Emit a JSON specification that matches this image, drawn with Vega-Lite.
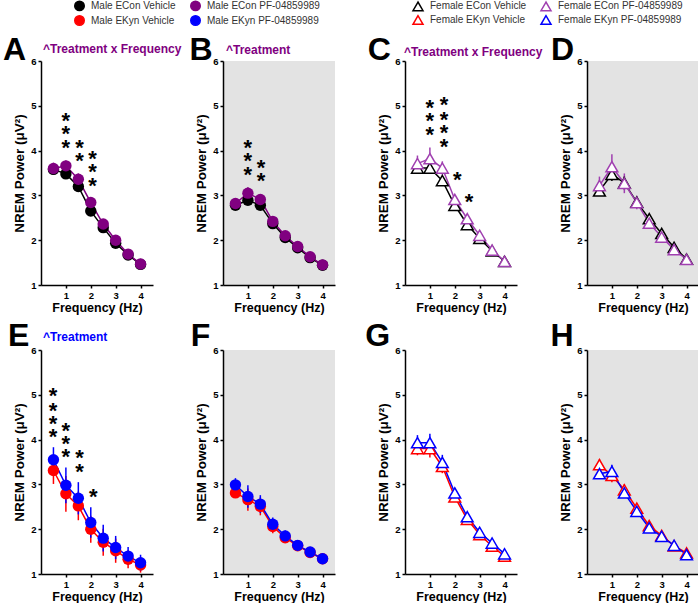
{
"$schema":"https://vega.github.io/schema/vega-lite/v6.json",
"padding":{"left":2,"top":0,"right":0,"bottom":0},
"background":"white",
"config":{
 "font":"Liberation Sans",
 "view":{"stroke":null},
 "axis":{"grid":false,"domainColor":"#000","domainWidth":1.5,"tickColor":"#000","tickWidth":1.5,"tickSize":3,"labelFontWeight":"bold","labelFontSize":9.5,"labelColor":"#000","labelPadding":2,"titleFontWeight":"bold","titleColor":"#000"}
},
"datasets":{
"series":[
{"panel":"A","group":"Male ECon Vehicle","freq":0.5,"power":3.58,"sem":0.12},
{"panel":"A","group":"Male ECon Vehicle","freq":1,"power":3.48,"sem":0.10},
{"panel":"A","group":"Male ECon Vehicle","freq":1.5,"power":3.20,"sem":0.12},
{"panel":"A","group":"Male ECon Vehicle","freq":2,"power":2.65,"sem":0.08},
{"panel":"A","group":"Male ECon Vehicle","freq":2.5,"power":2.28,"sem":0.06},
{"panel":"A","group":"Male ECon Vehicle","freq":3,"power":1.93,"sem":0.05},
{"panel":"A","group":"Male ECon Vehicle","freq":3.5,"power":1.67,"sem":0.04},
{"panel":"A","group":"Male ECon Vehicle","freq":4,"power":1.46,"sem":0.03},
{"panel":"A","group":"Male ECon PF-04859989","freq":0.5,"power":3.60,"sem":0.13},
{"panel":"A","group":"Male ECon PF-04859989","freq":1,"power":3.66,"sem":0.12},
{"panel":"A","group":"Male ECon PF-04859989","freq":1.5,"power":3.36,"sem":0.13},
{"panel":"A","group":"Male ECon PF-04859989","freq":2,"power":2.84,"sem":0.10},
{"panel":"A","group":"Male ECon PF-04859989","freq":2.5,"power":2.36,"sem":0.07},
{"panel":"A","group":"Male ECon PF-04859989","freq":3,"power":2.00,"sem":0.06},
{"panel":"A","group":"Male ECon PF-04859989","freq":3.5,"power":1.69,"sem":0.04},
{"panel":"A","group":"Male ECon PF-04859989","freq":4,"power":1.47,"sem":0.03},
{"panel":"B","group":"Male ECon Vehicle","freq":0.5,"power":2.78,"sem":0.10},
{"panel":"B","group":"Male ECon Vehicle","freq":1,"power":2.89,"sem":0.10},
{"panel":"B","group":"Male ECon Vehicle","freq":1.5,"power":2.78,"sem":0.10},
{"panel":"B","group":"Male ECon Vehicle","freq":2,"power":2.37,"sem":0.06},
{"panel":"B","group":"Male ECon Vehicle","freq":2.5,"power":2.06,"sem":0.05},
{"panel":"B","group":"Male ECon Vehicle","freq":3,"power":1.83,"sem":0.04},
{"panel":"B","group":"Male ECon Vehicle","freq":3.5,"power":1.61,"sem":0.03},
{"panel":"B","group":"Male ECon Vehicle","freq":4,"power":1.44,"sem":0.03},
{"panel":"B","group":"Male ECon PF-04859989","freq":0.5,"power":2.82,"sem":0.12},
{"panel":"B","group":"Male ECon PF-04859989","freq":1,"power":3.05,"sem":0.13},
{"panel":"B","group":"Male ECon PF-04859989","freq":1.5,"power":2.91,"sem":0.12},
{"panel":"B","group":"Male ECon PF-04859989","freq":2,"power":2.42,"sem":0.07},
{"panel":"B","group":"Male ECon PF-04859989","freq":2.5,"power":2.10,"sem":0.05},
{"panel":"B","group":"Male ECon PF-04859989","freq":3,"power":1.86,"sem":0.04},
{"panel":"B","group":"Male ECon PF-04859989","freq":3.5,"power":1.63,"sem":0.03},
{"panel":"B","group":"Male ECon PF-04859989","freq":4,"power":1.45,"sem":0.03},
{"panel":"C","group":"Female ECon Vehicle","freq":0.5,"power":3.61,"sem":0.06},
{"panel":"C","group":"Female ECon Vehicle","freq":1,"power":3.61,"sem":0.10},
{"panel":"C","group":"Female ECon Vehicle","freq":1.5,"power":3.33,"sem":0.10},
{"panel":"C","group":"Female ECon Vehicle","freq":2,"power":2.78,"sem":0.06},
{"panel":"C","group":"Female ECon Vehicle","freq":2.5,"power":2.35,"sem":0.06},
{"panel":"C","group":"Female ECon Vehicle","freq":3,"power":2.04,"sem":0.05},
{"panel":"C","group":"Female ECon Vehicle","freq":3.5,"power":1.76,"sem":0.04},
{"panel":"C","group":"Female ECon Vehicle","freq":4,"power":1.53,"sem":0.03},
{"panel":"C","group":"Female ECon PF-04859989","freq":0.5,"power":3.71,"sem":0.18},
{"panel":"C","group":"Female ECon PF-04859989","freq":1,"power":3.82,"sem":0.25},
{"panel":"C","group":"Female ECon PF-04859989","freq":1.5,"power":3.61,"sem":0.15},
{"panel":"C","group":"Female ECon PF-04859989","freq":2,"power":2.91,"sem":0.10},
{"panel":"C","group":"Female ECon PF-04859989","freq":2.5,"power":2.48,"sem":0.08},
{"panel":"C","group":"Female ECon PF-04859989","freq":3,"power":2.11,"sem":0.06},
{"panel":"C","group":"Female ECon PF-04859989","freq":3.5,"power":1.78,"sem":0.05},
{"panel":"C","group":"Female ECon PF-04859989","freq":4,"power":1.53,"sem":0.04},
{"panel":"D","group":"Female ECon Vehicle","freq":0.5,"power":3.10,"sem":0.08},
{"panel":"D","group":"Female ECon Vehicle","freq":1,"power":3.47,"sem":0.15},
{"panel":"D","group":"Female ECon Vehicle","freq":1.5,"power":3.28,"sem":0.15},
{"panel":"D","group":"Female ECon Vehicle","freq":2,"power":2.85,"sem":0.10},
{"panel":"D","group":"Female ECon Vehicle","freq":2.5,"power":2.48,"sem":0.08},
{"panel":"D","group":"Female ECon Vehicle","freq":3,"power":2.15,"sem":0.06},
{"panel":"D","group":"Female ECon Vehicle","freq":3.5,"power":1.84,"sem":0.05},
{"panel":"D","group":"Female ECon Vehicle","freq":4,"power":1.58,"sem":0.04},
{"panel":"D","group":"Female ECon PF-04859989","freq":0.5,"power":3.22,"sem":0.20},
{"panel":"D","group":"Female ECon PF-04859989","freq":1,"power":3.64,"sem":0.28},
{"panel":"D","group":"Female ECon PF-04859989","freq":1.5,"power":3.27,"sem":0.22},
{"panel":"D","group":"Female ECon PF-04859989","freq":2,"power":2.84,"sem":0.15},
{"panel":"D","group":"Female ECon PF-04859989","freq":2.5,"power":2.38,"sem":0.10},
{"panel":"D","group":"Female ECon PF-04859989","freq":3,"power":2.07,"sem":0.07},
{"panel":"D","group":"Female ECon PF-04859989","freq":3.5,"power":1.79,"sem":0.05},
{"panel":"D","group":"Female ECon PF-04859989","freq":4,"power":1.57,"sem":0.04},
{"panel":"E","group":"Male EKyn Vehicle","freq":0.5,"power":3.31,"sem":0.30},
{"panel":"E","group":"Male EKyn Vehicle","freq":1,"power":2.79,"sem":0.40},
{"panel":"E","group":"Male EKyn Vehicle","freq":1.5,"power":2.52,"sem":0.32},
{"panel":"E","group":"Male EKyn Vehicle","freq":2,"power":2.00,"sem":0.30},
{"panel":"E","group":"Male EKyn Vehicle","freq":2.5,"power":1.71,"sem":0.30},
{"panel":"E","group":"Male EKyn Vehicle","freq":3,"power":1.52,"sem":0.27},
{"panel":"E","group":"Male EKyn Vehicle","freq":3.5,"power":1.33,"sem":0.20},
{"panel":"E","group":"Male EKyn Vehicle","freq":4,"power":1.20,"sem":0.17},
{"panel":"E","group":"Male EKyn PF-04859989","freq":0.5,"power":3.55,"sem":0.28},
{"panel":"E","group":"Male EKyn PF-04859989","freq":1,"power":2.98,"sem":0.40},
{"panel":"E","group":"Male EKyn PF-04859989","freq":1.5,"power":2.69,"sem":0.36},
{"panel":"E","group":"Male EKyn PF-04859989","freq":2,"power":2.15,"sem":0.34},
{"panel":"E","group":"Male EKyn PF-04859989","freq":2.5,"power":1.80,"sem":0.30},
{"panel":"E","group":"Male EKyn PF-04859989","freq":3,"power":1.59,"sem":0.26},
{"panel":"E","group":"Male EKyn PF-04859989","freq":3.5,"power":1.40,"sem":0.20},
{"panel":"E","group":"Male EKyn PF-04859989","freq":4,"power":1.25,"sem":0.18},
{"panel":"F","group":"Male EKyn Vehicle","freq":0.5,"power":2.81,"sem":0.10},
{"panel":"F","group":"Male EKyn Vehicle","freq":1,"power":2.66,"sem":0.25},
{"panel":"F","group":"Male EKyn Vehicle","freq":1.5,"power":2.51,"sem":0.20},
{"panel":"F","group":"Male EKyn Vehicle","freq":2,"power":2.06,"sem":0.15},
{"panel":"F","group":"Male EKyn Vehicle","freq":2.5,"power":1.81,"sem":0.12},
{"panel":"F","group":"Male EKyn Vehicle","freq":3,"power":1.63,"sem":0.08},
{"panel":"F","group":"Male EKyn Vehicle","freq":3.5,"power":1.48,"sem":0.06},
{"panel":"F","group":"Male EKyn Vehicle","freq":4,"power":1.34,"sem":0.05},
{"panel":"F","group":"Male EKyn PF-04859989","freq":0.5,"power":2.99,"sem":0.15},
{"panel":"F","group":"Male EKyn PF-04859989","freq":1,"power":2.73,"sem":0.25},
{"panel":"F","group":"Male EKyn PF-04859989","freq":1.5,"power":2.56,"sem":0.20},
{"panel":"F","group":"Male EKyn PF-04859989","freq":2,"power":2.11,"sem":0.15},
{"panel":"F","group":"Male EKyn PF-04859989","freq":2.5,"power":1.85,"sem":0.12},
{"panel":"F","group":"Male EKyn PF-04859989","freq":3,"power":1.64,"sem":0.08},
{"panel":"F","group":"Male EKyn PF-04859989","freq":3.5,"power":1.49,"sem":0.06},
{"panel":"F","group":"Male EKyn PF-04859989","freq":4,"power":1.34,"sem":0.05},
{"panel":"G","group":"Female EKyn Vehicle","freq":0.5,"power":3.80,"sem":0.15},
{"panel":"G","group":"Female EKyn Vehicle","freq":1,"power":3.80,"sem":0.20},
{"panel":"G","group":"Female EKyn Vehicle","freq":1.5,"power":3.40,"sem":0.15},
{"panel":"G","group":"Female EKyn Vehicle","freq":2,"power":2.72,"sem":0.10},
{"panel":"G","group":"Female EKyn Vehicle","freq":2.5,"power":2.22,"sem":0.07},
{"panel":"G","group":"Female EKyn Vehicle","freq":3,"power":1.88,"sem":0.05},
{"panel":"G","group":"Female EKyn Vehicle","freq":3.5,"power":1.62,"sem":0.04},
{"panel":"G","group":"Female EKyn Vehicle","freq":4,"power":1.40,"sem":0.03},
{"panel":"G","group":"Female EKyn PF-04859989","freq":0.5,"power":3.93,"sem":0.17},
{"panel":"G","group":"Female EKyn PF-04859989","freq":1,"power":3.93,"sem":0.20},
{"panel":"G","group":"Female EKyn PF-04859989","freq":1.5,"power":3.49,"sem":0.17},
{"panel":"G","group":"Female EKyn PF-04859989","freq":2,"power":2.81,"sem":0.10},
{"panel":"G","group":"Female EKyn PF-04859989","freq":2.5,"power":2.28,"sem":0.07},
{"panel":"G","group":"Female EKyn PF-04859989","freq":3,"power":1.93,"sem":0.05},
{"panel":"G","group":"Female EKyn PF-04859989","freq":3.5,"power":1.69,"sem":0.04},
{"panel":"G","group":"Female EKyn PF-04859989","freq":4,"power":1.45,"sem":0.03},
{"panel":"H","group":"Female EKyn Vehicle","freq":0.5,"power":3.44,"sem":0.12},
{"panel":"H","group":"Female EKyn Vehicle","freq":1,"power":3.20,"sem":0.15},
{"panel":"H","group":"Female EKyn Vehicle","freq":1.5,"power":2.88,"sem":0.12},
{"panel":"H","group":"Female EKyn Vehicle","freq":2,"power":2.47,"sem":0.08},
{"panel":"H","group":"Female EKyn Vehicle","freq":2.5,"power":2.08,"sem":0.06},
{"panel":"H","group":"Female EKyn Vehicle","freq":3,"power":1.86,"sem":0.05},
{"panel":"H","group":"Female EKyn Vehicle","freq":3.5,"power":1.63,"sem":0.04},
{"panel":"H","group":"Female EKyn Vehicle","freq":4,"power":1.47,"sem":0.03},
{"panel":"H","group":"Female EKyn PF-04859989","freq":0.5,"power":3.24,"sem":0.12},
{"panel":"H","group":"Female EKyn PF-04859989","freq":1,"power":3.29,"sem":0.15},
{"panel":"H","group":"Female EKyn PF-04859989","freq":1.5,"power":2.81,"sem":0.10},
{"panel":"H","group":"Female EKyn PF-04859989","freq":2,"power":2.40,"sem":0.07},
{"panel":"H","group":"Female EKyn PF-04859989","freq":2.5,"power":2.03,"sem":0.05},
{"panel":"H","group":"Female EKyn PF-04859989","freq":3,"power":1.84,"sem":0.05},
{"panel":"H","group":"Female EKyn PF-04859989","freq":3.5,"power":1.64,"sem":0.04},
{"panel":"H","group":"Female EKyn PF-04859989","freq":4,"power":1.43,"sem":0.03}
],
"stars":[
{"panel":"A","freq":1,"power":4.77},{"panel":"A","freq":1,"power":4.48},{"panel":"A","freq":1,"power":4.17},
{"panel":"A","freq":1.55,"power":4.18},{"panel":"A","freq":1.55,"power":3.88},
{"panel":"A","freq":2.07,"power":3.93},{"panel":"A","freq":2.07,"power":3.63},{"panel":"A","freq":2.07,"power":3.33},
{"panel":"B","freq":1,"power":4.17},{"panel":"B","freq":1,"power":3.87},{"panel":"B","freq":1,"power":3.56},
{"panel":"B","freq":1.53,"power":3.73},{"panel":"B","freq":1.53,"power":3.43},
{"panel":"C","freq":1,"power":5.06},{"panel":"C","freq":1,"power":4.77},{"panel":"C","freq":1,"power":4.47},
{"panel":"C","freq":1.57,"power":5.12},{"panel":"C","freq":1.57,"power":4.80},{"panel":"C","freq":1.57,"power":4.50},{"panel":"C","freq":1.57,"power":4.19},
{"panel":"C","freq":2.1,"power":3.46},{"panel":"C","freq":2.57,"power":2.97},
{"panel":"E","freq":0.48,"power":5.08},{"panel":"E","freq":0.48,"power":4.76},{"panel":"E","freq":0.48,"power":4.46},{"panel":"E","freq":0.48,"power":4.16},
{"panel":"E","freq":1,"power":4.31},{"panel":"E","freq":1,"power":4.01},{"panel":"E","freq":1,"power":3.72},
{"panel":"E","freq":1.55,"power":3.69},{"panel":"E","freq":1.55,"power":3.39},
{"panel":"E","freq":2.1,"power":2.82}
]
},
"columns":4,
"spacing":{"row":65,"column":70},
"bounds":"flush",
"resolve":{"scale":{"color":"independent"},"legend":{"color":"independent"}},
"concat":[
  {"width":112,"height":224,
   "layer":[
    {"data":{"name":"series"},"transform":[{"filter":{"field":"panel","equal":"A"}}],
     "encoding":{"x":{"field":"freq","type":"quantitative","scale":{"domain":[0,4.5],"nice":false,"zero":false},"axis":{"values":[1,2,3,4],"title":"Frequency (Hz)","titleFontSize":12.5,"titlePadding":2}},
                 "y":{"field":"power","type":"quantitative","scale":{"domain":[1,6],"nice":false,"zero":false},"axis":{"values":[1,2,3,4,5,6],"title":"NREM Power (μV²)","titleFontSize":13.5,"titlePadding":4}}},
     "layer":[
     {"mark":{"type":"errorbar","thickness":1.5},"encoding":{"yError":{"field":"sem"},"color":{"field":"group","type":"nominal","scale":{"domain":["Male ECon Vehicle","Male EKyn Vehicle","Male ECon PF-04859989","Male EKyn PF-04859989"],"range":["#000000","#ff0000","#800080","#0000ff"]},"legend":{"title":null,"orient":"none","legendX":33,"legendY":-61,"columns":2,"symbolType":"circle","symbolSize":90,"labelFontSize":10,"labelColor":"#333333","labelOffset":6,"columnPadding":11,"rowPadding":-2,"padding":0}}}},
     {"mark":{"type":"line","strokeWidth":1.5},"encoding":{"color":{"field":"group","type":"nominal","scale":{"domain":["Male ECon Vehicle","Male EKyn Vehicle","Male ECon PF-04859989","Male EKyn PF-04859989"],"range":["#000000","#ff0000","#800080","#0000ff"]},"legend":{"title":null,"orient":"none","legendX":33,"legendY":-61,"columns":2,"symbolType":"circle","symbolSize":90,"labelFontSize":10,"labelColor":"#333333","labelOffset":6,"columnPadding":11,"rowPadding":-2,"padding":0}}}},
     {"mark":{"type":"point","shape":"circle","filled":true,"size":130,"opacity":1},"encoding":{"color":{"field":"group","type":"nominal","scale":{"domain":["Male ECon Vehicle","Male EKyn Vehicle","Male ECon PF-04859989","Male EKyn PF-04859989"],"range":["#000000","#ff0000","#800080","#0000ff"]},"legend":{"title":null,"orient":"none","legendX":33,"legendY":-61,"columns":2,"symbolType":"circle","symbolSize":90,"labelFontSize":10,"labelColor":"#333333","labelOffset":6,"columnPadding":11,"rowPadding":-2,"padding":0}}}}
    ]},
    {"data":{"name":"stars"},"transform":[{"filter":{"field":"panel","equal":"A"}}],"mark":{"type":"text","text":"*","fontSize":22,"fontWeight":"bold","baseline":"alphabetic","dy":12,"color":"#000"},
     "encoding":{"x":{"field":"freq","type":"quantitative","scale":{"domain":[0,4.5],"nice":false,"zero":false},"axis":{"values":[1,2,3,4],"title":"Frequency (Hz)","titleFontSize":12.5,"titlePadding":2}},
                 "y":{"field":"power","type":"quantitative","scale":{"domain":[1,6],"nice":false,"zero":false},"axis":{"values":[1,2,3,4,5,6],"title":"NREM Power (μV²)","titleFontSize":13.5,"titlePadding":4}}}},
    {"data":{"values":[{"t":"A"}]},"mark":{"type":"text","clip":false,"fontSize":32,"fontWeight":"bold","align":"left","baseline":"alphabetic","color":"#000"},
     "encoding":{"x":{"datum":-1.53,"type":"quantitative","scale":{"domain":[0,4.5],"nice":false,"zero":false},"axis":{"values":[1,2,3,4],"title":"Frequency (Hz)","titleFontSize":12.5,"titlePadding":2}},
                 "y":{"datum":6.02,"type":"quantitative","scale":{"domain":[1,6],"nice":false,"zero":false},"axis":{"values":[1,2,3,4,5,6],"title":"NREM Power (μV²)","titleFontSize":13.5,"titlePadding":4}},"text":{"field":"t","type":"nominal"}}},
    {"data":{"values":[{"t":"^Treatment x Frequency"}]},"mark":{"type":"text","clip":false,"fontSize":12,"fontWeight":"bold","align":"left","baseline":"middle","color":"#800080"},
     "encoding":{"x":{"datum":0.08,"type":"quantitative","scale":{"domain":[0,4.5],"nice":false,"zero":false},"axis":{"values":[1,2,3,4],"title":"Frequency (Hz)","titleFontSize":12.5,"titlePadding":2}},
                 "y":{"datum":6.26,"type":"quantitative","scale":{"domain":[1,6],"nice":false,"zero":false},"axis":{"values":[1,2,3,4,5,6],"title":"NREM Power (μV²)","titleFontSize":13.5,"titlePadding":4}},"text":{"field":"t","type":"nominal"}}}
   ]},
  {"width":112,"height":224,"view":{"fill":"#e3e3e3","stroke":null},
   "layer":[
    {"data":{"name":"series"},"transform":[{"filter":{"field":"panel","equal":"B"}}],
     "encoding":{"x":{"field":"freq","type":"quantitative","scale":{"domain":[0,4.5],"nice":false,"zero":false},"axis":{"values":[1,2,3,4],"title":"Frequency (Hz)","titleFontSize":12.5,"titlePadding":2}},
                 "y":{"field":"power","type":"quantitative","scale":{"domain":[1,6],"nice":false,"zero":false},"axis":{"values":[1,2,3,4,5,6],"title":"NREM Power (μV²)","titleFontSize":13.5,"titlePadding":4}}},
     "layer":[
     {"mark":{"type":"errorbar","thickness":1.5},"encoding":{"yError":{"field":"sem"},"color":{"field":"group","type":"nominal","scale":{"domain":["Male ECon Vehicle","Male EKyn Vehicle","Male ECon PF-04859989","Male EKyn PF-04859989"],"range":["#000000","#ff0000","#800080","#0000ff"]},"legend":null}}},
     {"mark":{"type":"line","strokeWidth":1.5},"encoding":{"color":{"field":"group","type":"nominal","scale":{"domain":["Male ECon Vehicle","Male EKyn Vehicle","Male ECon PF-04859989","Male EKyn PF-04859989"],"range":["#000000","#ff0000","#800080","#0000ff"]},"legend":null}}},
     {"mark":{"type":"point","shape":"circle","filled":true,"size":130,"opacity":1},"encoding":{"color":{"field":"group","type":"nominal","scale":{"domain":["Male ECon Vehicle","Male EKyn Vehicle","Male ECon PF-04859989","Male EKyn PF-04859989"],"range":["#000000","#ff0000","#800080","#0000ff"]},"legend":null}}}
    ]},
    {"data":{"name":"stars"},"transform":[{"filter":{"field":"panel","equal":"B"}}],"mark":{"type":"text","text":"*","fontSize":22,"fontWeight":"bold","baseline":"alphabetic","dy":12,"color":"#000"},
     "encoding":{"x":{"field":"freq","type":"quantitative","scale":{"domain":[0,4.5],"nice":false,"zero":false},"axis":{"values":[1,2,3,4],"title":"Frequency (Hz)","titleFontSize":12.5,"titlePadding":2}},
                 "y":{"field":"power","type":"quantitative","scale":{"domain":[1,6],"nice":false,"zero":false},"axis":{"values":[1,2,3,4,5,6],"title":"NREM Power (μV²)","titleFontSize":13.5,"titlePadding":4}}}},
    {"data":{"values":[{"t":"B"}]},"mark":{"type":"text","clip":false,"fontSize":32,"fontWeight":"bold","align":"left","baseline":"alphabetic","color":"#000"},
     "encoding":{"x":{"datum":-1.35,"type":"quantitative","scale":{"domain":[0,4.5],"nice":false,"zero":false},"axis":{"values":[1,2,3,4],"title":"Frequency (Hz)","titleFontSize":12.5,"titlePadding":2}},
                 "y":{"datum":6.02,"type":"quantitative","scale":{"domain":[1,6],"nice":false,"zero":false},"axis":{"values":[1,2,3,4,5,6],"title":"NREM Power (μV²)","titleFontSize":13.5,"titlePadding":4}},"text":{"field":"t","type":"nominal"}}},
    {"data":{"values":[{"t":"^Treatment"}]},"mark":{"type":"text","clip":false,"fontSize":12,"fontWeight":"bold","align":"left","baseline":"middle","color":"#800080"},
     "encoding":{"x":{"datum":0.12,"type":"quantitative","scale":{"domain":[0,4.5],"nice":false,"zero":false},"axis":{"values":[1,2,3,4],"title":"Frequency (Hz)","titleFontSize":12.5,"titlePadding":2}},
                 "y":{"datum":6.24,"type":"quantitative","scale":{"domain":[1,6],"nice":false,"zero":false},"axis":{"values":[1,2,3,4,5,6],"title":"NREM Power (μV²)","titleFontSize":13.5,"titlePadding":4}},"text":{"field":"t","type":"nominal"}}}
   ]},
  {"width":112,"height":224,
   "layer":[
    {"data":{"name":"series"},"transform":[{"filter":{"field":"panel","equal":"C"}}],
     "encoding":{"x":{"field":"freq","type":"quantitative","scale":{"domain":[0,4.5],"nice":false,"zero":false},"axis":{"values":[1,2,3,4],"title":"Frequency (Hz)","titleFontSize":12.5,"titlePadding":2}},
                 "y":{"field":"power","type":"quantitative","scale":{"domain":[1,6],"nice":false,"zero":false},"axis":{"values":[1,2,3,4,5,6],"title":"NREM Power (μV²)","titleFontSize":13.5,"titlePadding":4}}},
     "layer":[
     {"mark":{"type":"errorbar","thickness":1.5},"encoding":{"yError":{"field":"sem"},"color":{"field":"group","type":"nominal","scale":{"domain":["Female ECon Vehicle","Female EKyn Vehicle","Female ECon PF-04859989","Female EKyn PF-04859989"],"range":["#000000","#ff0000","#a040b0","#0000ff"]},"legend":{"title":null,"orient":"none","legendX":7,"legendY":-61,"columns":2,"symbolType":"triangle-up","symbolSize":100,"symbolStrokeWidth":1.5,"labelFontSize":10,"labelColor":"#333333","labelOffset":6,"columnPadding":11,"rowPadding":-2,"padding":0}}}},
     {"mark":{"type":"line","strokeWidth":1.5},"encoding":{"color":{"field":"group","type":"nominal","scale":{"domain":["Female ECon Vehicle","Female EKyn Vehicle","Female ECon PF-04859989","Female EKyn PF-04859989"],"range":["#000000","#ff0000","#a040b0","#0000ff"]},"legend":{"title":null,"orient":"none","legendX":7,"legendY":-61,"columns":2,"symbolType":"triangle-up","symbolSize":100,"symbolStrokeWidth":1.5,"labelFontSize":10,"labelColor":"#333333","labelOffset":6,"columnPadding":11,"rowPadding":-2,"padding":0}}}},
     {"mark":{"type":"point","shape":"triangle-up","filled":false,"fill":"white","fillOpacity":1,"strokeWidth":1.5,"size":140,"opacity":1},"encoding":{"color":{"field":"group","type":"nominal","scale":{"domain":["Female ECon Vehicle","Female EKyn Vehicle","Female ECon PF-04859989","Female EKyn PF-04859989"],"range":["#000000","#ff0000","#a040b0","#0000ff"]},"legend":{"title":null,"orient":"none","legendX":7,"legendY":-61,"columns":2,"symbolType":"triangle-up","symbolSize":100,"symbolStrokeWidth":1.5,"labelFontSize":10,"labelColor":"#333333","labelOffset":6,"columnPadding":11,"rowPadding":-2,"padding":0}}}}
    ]},
    {"data":{"name":"stars"},"transform":[{"filter":{"field":"panel","equal":"C"}}],"mark":{"type":"text","text":"*","fontSize":22,"fontWeight":"bold","baseline":"alphabetic","dy":12,"color":"#000"},
     "encoding":{"x":{"field":"freq","type":"quantitative","scale":{"domain":[0,4.5],"nice":false,"zero":false},"axis":{"values":[1,2,3,4],"title":"Frequency (Hz)","titleFontSize":12.5,"titlePadding":2}},
                 "y":{"field":"power","type":"quantitative","scale":{"domain":[1,6],"nice":false,"zero":false},"axis":{"values":[1,2,3,4,5,6],"title":"NREM Power (μV²)","titleFontSize":13.5,"titlePadding":4}}}},
    {"data":{"values":[{"t":"C"}]},"mark":{"type":"text","clip":false,"fontSize":32,"fontWeight":"bold","align":"left","baseline":"alphabetic","color":"#000"},
     "encoding":{"x":{"datum":-1.5,"type":"quantitative","scale":{"domain":[0,4.5],"nice":false,"zero":false},"axis":{"values":[1,2,3,4],"title":"Frequency (Hz)","titleFontSize":12.5,"titlePadding":2}},
                 "y":{"datum":6.02,"type":"quantitative","scale":{"domain":[1,6],"nice":false,"zero":false},"axis":{"values":[1,2,3,4,5,6],"title":"NREM Power (μV²)","titleFontSize":13.5,"titlePadding":4}},"text":{"field":"t","type":"nominal"}}},
    {"data":{"values":[{"t":"^Treatment x Frequency"}]},"mark":{"type":"text","clip":false,"fontSize":12,"fontWeight":"bold","align":"left","baseline":"middle","color":"#800080"},
     "encoding":{"x":{"datum":-0.04,"type":"quantitative","scale":{"domain":[0,4.5],"nice":false,"zero":false},"axis":{"values":[1,2,3,4],"title":"Frequency (Hz)","titleFontSize":12.5,"titlePadding":2}},
                 "y":{"datum":6.2,"type":"quantitative","scale":{"domain":[1,6],"nice":false,"zero":false},"axis":{"values":[1,2,3,4,5,6],"title":"NREM Power (μV²)","titleFontSize":13.5,"titlePadding":4}},"text":{"field":"t","type":"nominal"}}}
   ]},
  {"width":112,"height":224,"view":{"fill":"#e3e3e3","stroke":null},
   "layer":[
    {"data":{"name":"series"},"transform":[{"filter":{"field":"panel","equal":"D"}}],
     "encoding":{"x":{"field":"freq","type":"quantitative","scale":{"domain":[0,4.5],"nice":false,"zero":false},"axis":{"values":[1,2,3,4],"title":"Frequency (Hz)","titleFontSize":12.5,"titlePadding":2}},
                 "y":{"field":"power","type":"quantitative","scale":{"domain":[1,6],"nice":false,"zero":false},"axis":{"values":[1,2,3,4,5,6],"title":"NREM Power (μV²)","titleFontSize":13.5,"titlePadding":4}}},
     "layer":[
     {"mark":{"type":"errorbar","thickness":1.5},"encoding":{"yError":{"field":"sem"},"color":{"field":"group","type":"nominal","scale":{"domain":["Female ECon Vehicle","Female EKyn Vehicle","Female ECon PF-04859989","Female EKyn PF-04859989"],"range":["#000000","#ff0000","#a040b0","#0000ff"]},"legend":null}}},
     {"mark":{"type":"line","strokeWidth":1.5},"encoding":{"color":{"field":"group","type":"nominal","scale":{"domain":["Female ECon Vehicle","Female EKyn Vehicle","Female ECon PF-04859989","Female EKyn PF-04859989"],"range":["#000000","#ff0000","#a040b0","#0000ff"]},"legend":null}}},
     {"mark":{"type":"point","shape":"triangle-up","filled":false,"fill":"white","fillOpacity":1,"strokeWidth":1.5,"size":140,"opacity":1},"encoding":{"color":{"field":"group","type":"nominal","scale":{"domain":["Female ECon Vehicle","Female EKyn Vehicle","Female ECon PF-04859989","Female EKyn PF-04859989"],"range":["#000000","#ff0000","#a040b0","#0000ff"]},"legend":null}}}
    ]},
    {"data":{"values":[{"t":"D"}]},"mark":{"type":"text","clip":false,"fontSize":32,"fontWeight":"bold","align":"left","baseline":"alphabetic","color":"#000"},
     "encoding":{"x":{"datum":-1.45,"type":"quantitative","scale":{"domain":[0,4.5],"nice":false,"zero":false},"axis":{"values":[1,2,3,4],"title":"Frequency (Hz)","titleFontSize":12.5,"titlePadding":2}},
                 "y":{"datum":6.02,"type":"quantitative","scale":{"domain":[1,6],"nice":false,"zero":false},"axis":{"values":[1,2,3,4,5,6],"title":"NREM Power (μV²)","titleFontSize":13.5,"titlePadding":4}},"text":{"field":"t","type":"nominal"}}}
   ]},
  {"width":112,"height":224,
   "layer":[
    {"data":{"name":"series"},"transform":[{"filter":{"field":"panel","equal":"E"}}],
     "encoding":{"x":{"field":"freq","type":"quantitative","scale":{"domain":[0,4.5],"nice":false,"zero":false},"axis":{"values":[1,2,3,4],"title":"Frequency (Hz)","titleFontSize":12.5,"titlePadding":2}},
                 "y":{"field":"power","type":"quantitative","scale":{"domain":[1,6],"nice":false,"zero":false},"axis":{"values":[1,2,3,4,5,6],"title":"NREM Power (μV²)","titleFontSize":13.5,"titlePadding":4}}},
     "layer":[
     {"mark":{"type":"errorbar","thickness":1.5},"encoding":{"yError":{"field":"sem"},"color":{"field":"group","type":"nominal","scale":{"domain":["Male ECon Vehicle","Male EKyn Vehicle","Male ECon PF-04859989","Male EKyn PF-04859989"],"range":["#000000","#ff0000","#800080","#0000ff"]},"legend":null}}},
     {"mark":{"type":"line","strokeWidth":1.5},"encoding":{"color":{"field":"group","type":"nominal","scale":{"domain":["Male ECon Vehicle","Male EKyn Vehicle","Male ECon PF-04859989","Male EKyn PF-04859989"],"range":["#000000","#ff0000","#800080","#0000ff"]},"legend":null}}},
     {"mark":{"type":"point","shape":"circle","filled":true,"size":130,"opacity":1},"encoding":{"color":{"field":"group","type":"nominal","scale":{"domain":["Male ECon Vehicle","Male EKyn Vehicle","Male ECon PF-04859989","Male EKyn PF-04859989"],"range":["#000000","#ff0000","#800080","#0000ff"]},"legend":null}}}
    ]},
    {"data":{"name":"stars"},"transform":[{"filter":{"field":"panel","equal":"E"}}],"mark":{"type":"text","text":"*","fontSize":22,"fontWeight":"bold","baseline":"alphabetic","dy":12,"color":"#000"},
     "encoding":{"x":{"field":"freq","type":"quantitative","scale":{"domain":[0,4.5],"nice":false,"zero":false},"axis":{"values":[1,2,3,4],"title":"Frequency (Hz)","titleFontSize":12.5,"titlePadding":2}},
                 "y":{"field":"power","type":"quantitative","scale":{"domain":[1,6],"nice":false,"zero":false},"axis":{"values":[1,2,3,4,5,6],"title":"NREM Power (μV²)","titleFontSize":13.5,"titlePadding":4}}}},
    {"data":{"values":[{"t":"E"}]},"mark":{"type":"text","clip":false,"fontSize":32,"fontWeight":"bold","align":"left","baseline":"alphabetic","color":"#000"},
     "encoding":{"x":{"datum":-1.33,"type":"quantitative","scale":{"domain":[0,4.5],"nice":false,"zero":false},"axis":{"values":[1,2,3,4],"title":"Frequency (Hz)","titleFontSize":12.5,"titlePadding":2}},
                 "y":{"datum":6.09,"type":"quantitative","scale":{"domain":[1,6],"nice":false,"zero":false},"axis":{"values":[1,2,3,4,5,6],"title":"NREM Power (μV²)","titleFontSize":13.5,"titlePadding":4}},"text":{"field":"t","type":"nominal"}}},
    {"data":{"values":[{"t":"^Treatment"}]},"mark":{"type":"text","clip":false,"fontSize":12,"fontWeight":"bold","align":"left","baseline":"middle","color":"#0000ff"},
     "encoding":{"x":{"datum":0.08,"type":"quantitative","scale":{"domain":[0,4.5],"nice":false,"zero":false},"axis":{"values":[1,2,3,4],"title":"Frequency (Hz)","titleFontSize":12.5,"titlePadding":2}},
                 "y":{"datum":6.29,"type":"quantitative","scale":{"domain":[1,6],"nice":false,"zero":false},"axis":{"values":[1,2,3,4,5,6],"title":"NREM Power (μV²)","titleFontSize":13.5,"titlePadding":4}},"text":{"field":"t","type":"nominal"}}}
   ]},
  {"width":112,"height":224,"view":{"fill":"#e3e3e3","stroke":null},
   "layer":[
    {"data":{"name":"series"},"transform":[{"filter":{"field":"panel","equal":"F"}}],
     "encoding":{"x":{"field":"freq","type":"quantitative","scale":{"domain":[0,4.5],"nice":false,"zero":false},"axis":{"values":[1,2,3,4],"title":"Frequency (Hz)","titleFontSize":12.5,"titlePadding":2}},
                 "y":{"field":"power","type":"quantitative","scale":{"domain":[1,6],"nice":false,"zero":false},"axis":{"values":[1,2,3,4,5,6],"title":"NREM Power (μV²)","titleFontSize":13.5,"titlePadding":4}}},
     "layer":[
     {"mark":{"type":"errorbar","thickness":1.5},"encoding":{"yError":{"field":"sem"},"color":{"field":"group","type":"nominal","scale":{"domain":["Male ECon Vehicle","Male EKyn Vehicle","Male ECon PF-04859989","Male EKyn PF-04859989"],"range":["#000000","#ff0000","#800080","#0000ff"]},"legend":null}}},
     {"mark":{"type":"line","strokeWidth":1.5},"encoding":{"color":{"field":"group","type":"nominal","scale":{"domain":["Male ECon Vehicle","Male EKyn Vehicle","Male ECon PF-04859989","Male EKyn PF-04859989"],"range":["#000000","#ff0000","#800080","#0000ff"]},"legend":null}}},
     {"mark":{"type":"point","shape":"circle","filled":true,"size":130,"opacity":1},"encoding":{"color":{"field":"group","type":"nominal","scale":{"domain":["Male ECon Vehicle","Male EKyn Vehicle","Male ECon PF-04859989","Male EKyn PF-04859989"],"range":["#000000","#ff0000","#800080","#0000ff"]},"legend":null}}}
    ]},
    {"data":{"values":[{"t":"F"}]},"mark":{"type":"text","clip":false,"fontSize":32,"fontWeight":"bold","align":"left","baseline":"alphabetic","color":"#000"},
     "encoding":{"x":{"datum":-1.3,"type":"quantitative","scale":{"domain":[0,4.5],"nice":false,"zero":false},"axis":{"values":[1,2,3,4],"title":"Frequency (Hz)","titleFontSize":12.5,"titlePadding":2}},
                 "y":{"datum":6.09,"type":"quantitative","scale":{"domain":[1,6],"nice":false,"zero":false},"axis":{"values":[1,2,3,4,5,6],"title":"NREM Power (μV²)","titleFontSize":13.5,"titlePadding":4}},"text":{"field":"t","type":"nominal"}}}
   ]},
  {"width":112,"height":224,
   "layer":[
    {"data":{"name":"series"},"transform":[{"filter":{"field":"panel","equal":"G"}}],
     "encoding":{"x":{"field":"freq","type":"quantitative","scale":{"domain":[0,4.5],"nice":false,"zero":false},"axis":{"values":[1,2,3,4],"title":"Frequency (Hz)","titleFontSize":12.5,"titlePadding":2}},
                 "y":{"field":"power","type":"quantitative","scale":{"domain":[1,6],"nice":false,"zero":false},"axis":{"values":[1,2,3,4,5,6],"title":"NREM Power (μV²)","titleFontSize":13.5,"titlePadding":4}}},
     "layer":[
     {"mark":{"type":"errorbar","thickness":1.5},"encoding":{"yError":{"field":"sem"},"color":{"field":"group","type":"nominal","scale":{"domain":["Female ECon Vehicle","Female EKyn Vehicle","Female ECon PF-04859989","Female EKyn PF-04859989"],"range":["#000000","#ff0000","#a040b0","#0000ff"]},"legend":null}}},
     {"mark":{"type":"line","strokeWidth":1.5},"encoding":{"color":{"field":"group","type":"nominal","scale":{"domain":["Female ECon Vehicle","Female EKyn Vehicle","Female ECon PF-04859989","Female EKyn PF-04859989"],"range":["#000000","#ff0000","#a040b0","#0000ff"]},"legend":null}}},
     {"mark":{"type":"point","shape":"triangle-up","filled":false,"fill":"white","fillOpacity":1,"strokeWidth":1.5,"size":140,"opacity":1},"encoding":{"color":{"field":"group","type":"nominal","scale":{"domain":["Female ECon Vehicle","Female EKyn Vehicle","Female ECon PF-04859989","Female EKyn PF-04859989"],"range":["#000000","#ff0000","#a040b0","#0000ff"]},"legend":null}}}
    ]},
    {"data":{"values":[{"t":"G"}]},"mark":{"type":"text","clip":false,"fontSize":32,"fontWeight":"bold","align":"left","baseline":"alphabetic","color":"#000"},
     "encoding":{"x":{"datum":-1.6,"type":"quantitative","scale":{"domain":[0,4.5],"nice":false,"zero":false},"axis":{"values":[1,2,3,4],"title":"Frequency (Hz)","titleFontSize":12.5,"titlePadding":2}},
                 "y":{"datum":6.09,"type":"quantitative","scale":{"domain":[1,6],"nice":false,"zero":false},"axis":{"values":[1,2,3,4,5,6],"title":"NREM Power (μV²)","titleFontSize":13.5,"titlePadding":4}},"text":{"field":"t","type":"nominal"}}}
   ]},
  {"width":112,"height":224,"view":{"fill":"#e3e3e3","stroke":null},
   "layer":[
    {"data":{"name":"series"},"transform":[{"filter":{"field":"panel","equal":"H"}}],
     "encoding":{"x":{"field":"freq","type":"quantitative","scale":{"domain":[0,4.5],"nice":false,"zero":false},"axis":{"values":[1,2,3,4],"title":"Frequency (Hz)","titleFontSize":12.5,"titlePadding":2}},
                 "y":{"field":"power","type":"quantitative","scale":{"domain":[1,6],"nice":false,"zero":false},"axis":{"values":[1,2,3,4,5,6],"title":"NREM Power (μV²)","titleFontSize":13.5,"titlePadding":4}}},
     "layer":[
     {"mark":{"type":"errorbar","thickness":1.5},"encoding":{"yError":{"field":"sem"},"color":{"field":"group","type":"nominal","scale":{"domain":["Female ECon Vehicle","Female EKyn Vehicle","Female ECon PF-04859989","Female EKyn PF-04859989"],"range":["#000000","#ff0000","#a040b0","#0000ff"]},"legend":null}}},
     {"mark":{"type":"line","strokeWidth":1.5},"encoding":{"color":{"field":"group","type":"nominal","scale":{"domain":["Female ECon Vehicle","Female EKyn Vehicle","Female ECon PF-04859989","Female EKyn PF-04859989"],"range":["#000000","#ff0000","#a040b0","#0000ff"]},"legend":null}}},
     {"mark":{"type":"point","shape":"triangle-up","filled":false,"fill":"white","fillOpacity":1,"strokeWidth":1.5,"size":140,"opacity":1},"encoding":{"color":{"field":"group","type":"nominal","scale":{"domain":["Female ECon Vehicle","Female EKyn Vehicle","Female ECon PF-04859989","Female EKyn PF-04859989"],"range":["#000000","#ff0000","#a040b0","#0000ff"]},"legend":null}}}
    ]},
    {"data":{"values":[{"t":"H"}]},"mark":{"type":"text","clip":false,"fontSize":32,"fontWeight":"bold","align":"left","baseline":"alphabetic","color":"#000"},
     "encoding":{"x":{"datum":-1.47,"type":"quantitative","scale":{"domain":[0,4.5],"nice":false,"zero":false},"axis":{"values":[1,2,3,4],"title":"Frequency (Hz)","titleFontSize":12.5,"titlePadding":2}},
                 "y":{"datum":6.09,"type":"quantitative","scale":{"domain":[1,6],"nice":false,"zero":false},"axis":{"values":[1,2,3,4,5,6],"title":"NREM Power (μV²)","titleFontSize":13.5,"titlePadding":4}},"text":{"field":"t","type":"nominal"}}}
   ]}
]
}
